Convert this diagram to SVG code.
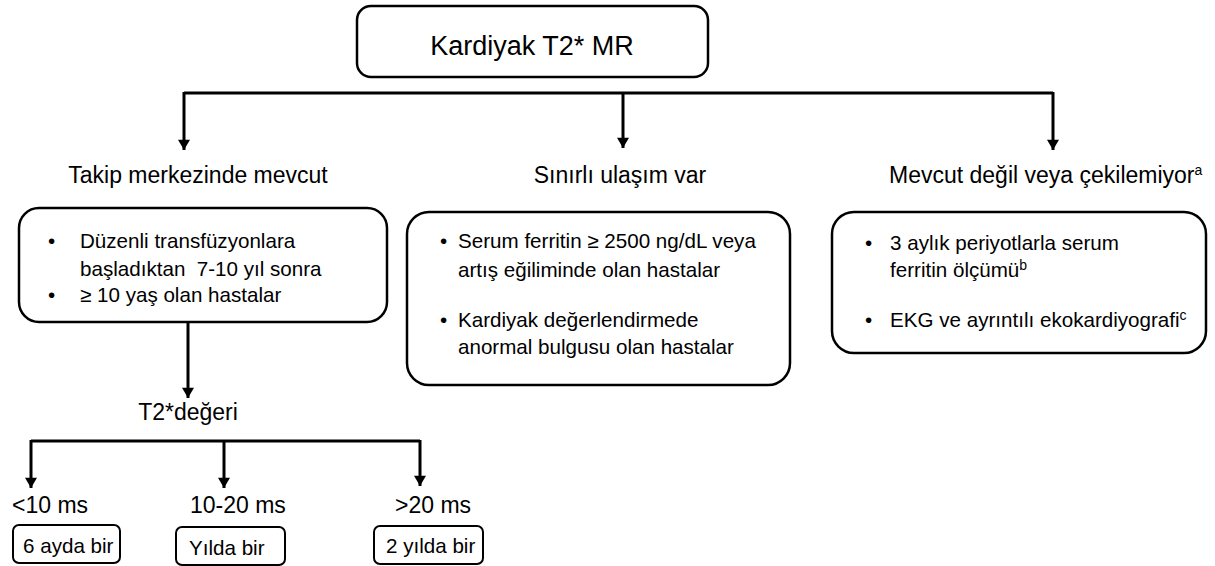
<svg xmlns="http://www.w3.org/2000/svg" width="1215" height="566" viewBox="0 0 1215 566">
<style>
text{font-family:"Liberation Sans",Arial,sans-serif;fill:#000}
.box{fill:#fff;stroke:#000;stroke-width:2.5}
.sbox{fill:#fff;stroke:#000;stroke-width:2}
.ln{fill:none;stroke:#000;stroke-width:3}
.t26{font-size:27px}
.t22{font-size:23px}
.t20{font-size:20.6px}
.sup{font-size:14px}
</style>
<defs>
<marker id="arr" viewBox="0 0 12 14" refX="12" refY="7" markerWidth="15" markerHeight="12" orient="auto" markerUnits="userSpaceOnUse">
<path d="M0,0 L12,7 L0,14 Z" fill="#000"/>
</marker>
</defs>
<g id="connectors">
<path class="ln" d="M184,93 H1053"/>
<path class="ln" d="M184,92 V150" marker-end="url(#arr)"/>
<path class="ln" d="M623,92 V148" marker-end="url(#arr)"/>
<path class="ln" d="M1053,92 V150" marker-end="url(#arr)"/>
<path class="ln" d="M188,322 V398" marker-end="url(#arr)"/>
<path class="ln" d="M31,441 H420"/>
<path class="ln" d="M31,440 V488" marker-end="url(#arr)"/>
<path class="ln" d="M224,440 V488" marker-end="url(#arr)"/>
<path class="ln" d="M420,440 V486" marker-end="url(#arr)"/>
</g>
<g id="top">
<rect class="box" x="357" y="6" width="351" height="71" rx="14"/>
<text class="t26" x="532" y="55" text-anchor="middle">Kardiyak T2* MR</text>
</g>
<g id="label-left"><text class="t22" x="198" y="183" text-anchor="middle">Takip merkezinde mevcut</text></g>
<g id="label-mid"><text class="t22" x="620" y="183" text-anchor="middle">Sınırlı ulaşım var</text></g>
<g id="label-right"><text class="t22" x="889" y="183">Mevcut değil veya çekilemiyor<tspan class="sup" dy="-8">a</tspan></text></g>
<g id="box-left">
<rect class="box" x="19" y="208" width="368" height="114" rx="20"/>
<text class="t20" xml:space="preserve"><tspan x="48" y="248">•</tspan><tspan x="80" y="248">Düzenli transfüzyonlara</tspan><tspan x="80" y="276">başladıktan  7-10 yıl sonra</tspan><tspan x="48" y="302">•</tspan><tspan x="80" y="302">≥ 10 yaş olan hastalar</tspan></text>
</g>
<g id="box-mid">
<rect class="box" x="407" y="212" width="383" height="173" rx="22"/>
<text class="t20"><tspan x="440" y="248">•</tspan><tspan x="458" y="248">Serum ferritin ≥ 2500 ng/dL veya</tspan><tspan x="458" y="277">artış eğiliminde olan hastalar</tspan><tspan x="440" y="327">•</tspan><tspan x="458" y="327">Kardiyak değerlendirmede</tspan><tspan x="458" y="354">anormal bulgusu olan hastalar</tspan></text>
</g>
<g id="box-right">
<rect class="box" x="832" y="212" width="374" height="141" rx="22"/>
<text class="t20"><tspan x="865" y="250">•</tspan><tspan x="890" y="250">3 aylık periyotlarla serum</tspan><tspan x="890" y="277">ferritin ölçümü</tspan><tspan class="sup" dy="-7">b</tspan><tspan x="865" y="327">•</tspan><tspan x="890" y="327">EKG ve ayrıntılı ekokardiyografi</tspan><tspan class="sup" dy="-7">c</tspan></text>
</g>
<g id="t2-label"><text class="t22" x="188" y="420" text-anchor="middle">T2*değeri</text></g>
<g id="lt10">
<text class="t22" x="12" y="513">&lt;10 ms</text>
<rect class="sbox" x="13" y="525" width="107" height="38" rx="6"/>
<text class="t20" x="23" y="553">6 ayda bir</text>
</g>
<g id="mid10-20">
<text class="t22" x="190" y="513">10-20 ms</text>
<rect class="sbox" x="176" y="527" width="109" height="38" rx="6"/>
<text class="t20" x="189" y="555">Yılda bir</text>
</g>
<g id="gt20">
<text class="t22" x="395" y="513">&gt;20 ms</text>
<rect class="sbox" x="374" y="526" width="109" height="38" rx="6"/>
<text class="t20" x="386" y="553">2 yılda bir</text>
</g>
</svg>
